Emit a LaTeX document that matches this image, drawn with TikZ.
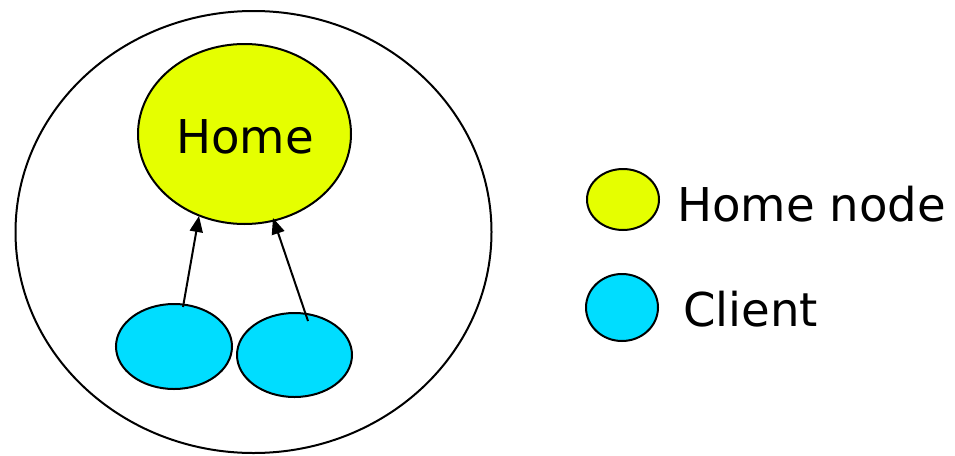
\documentclass[tikz,border=0pt]{standalone}
\usepackage{fontspec}
\setmainfont{DejaVu Sans}
\usetikzlibrary{shapes.geometric,arrows.meta}
\definecolor{homeyellow}{RGB}{229,255,0}
\definecolor{clientcyan}{RGB}{0,221,255}
\begin{document}
\begin{tikzpicture}[x=1pt,y=-1pt,
  blob/.style={ellipse,draw=black,line width=2pt,inner sep=0pt},
  lbl/.style={font=\fontsize{46.6}{50}\selectfont,inner sep=0pt,anchor=base west},
  arr/.style={line width=2pt,-{Triangle[length=16pt,width=13pt]}}]
\useasboundingbox (0,0) rectangle (955,455);
\node[ellipse,draw=black,line width=2pt,minimum width=476pt,minimum height=442pt,inner sep=0pt] (outer) at (253.5,232) {};
\node[blob,fill=homeyellow,minimum width=213pt,minimum height=180pt] (home) at (244.5,134) {};
\node[font=\fontsize{46.6}{50}\selectfont,inner sep=0pt,anchor=base] (hometext) at (245,153) {Home};
\node[blob,fill=clientcyan,minimum width=116pt,minimum height=85pt] (c1) at (174,346.5) {};
\node[blob,fill=clientcyan,minimum width=115pt,minimum height=84pt] (c2) at (294.5,355) {};
\coordinate (s1) at (183,307);
\coordinate (t1) at (199,216);
\coordinate (s2) at (308,321);
\coordinate (t2) at (273,218);
\draw[arr] (s1) -- (t1);
\draw[arr] (s2) -- (t2);
\node[blob,fill=homeyellow,minimum width=72pt,minimum height=61pt] (lh) at (623,199.5) {};
\node[blob,fill=clientcyan,minimum width=72pt,minimum height=67pt] (lc) at (622,307.5) {};
\node[lbl] (lht) at (677,221) {Home node};
\node[lbl] (lct) at (683,326) {Client};
\end{tikzpicture}
\end{document}
